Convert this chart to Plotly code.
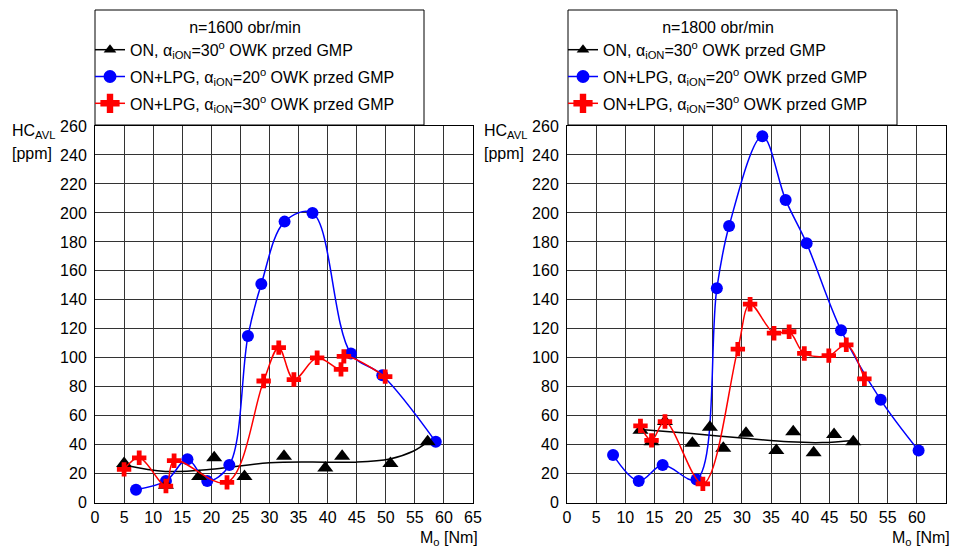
import plotly.graph_objects as go

# ---------- data: n = 1600 obr/min ----------
on1600_x = [5.0, 12.2, 17.9, 20.5, 25.7, 32.5, 39.6, 42.5, 50.8, 57.2]
on1600_y = [27, 12, 18, 31, 18, 32, 24, 32, 27, 42]
on1600_trend_x = [5.0, 12.1, 20.6, 30.0, 40.0, 45.0, 50.7, 54.7, 57.2]
on1600_trend_y = [26, 21.6, 23.3, 27.6, 28.0, 28.0, 30.2, 35.5, 42]

lpg20_1600_x = [7.05, 12.2, 15.9, 19.3, 23.1, 26.3, 28.6, 32.6, 37.4, 44.0, 49.4, 58.6]
lpg20_1600_y = [9, 15, 30, 15, 26, 115, 151, 194, 200, 103, 88, 42]

lpg30_1600_x = [5.0, 7.6, 12.2, 13.6, 22.7, 29.0, 31.6, 34.2, 38.2, 42.3, 42.8, 49.9]
lpg30_1600_y = [23, 31, 11.5, 29, 14, 84, 107, 85, 100, 92, 101, 87]

# ---------- data: n = 1800 obr/min ----------
on1800_x = [12.6, 14.5, 16.8, 21.5, 24.5, 26.8, 30.7, 35.9, 38.8, 42.3, 45.8, 49.1]
on1800_y = [50, 42, 56, 41, 52, 37.5, 48, 36, 49, 34.5, 47, 42]
on1800_trend_x = [12.6, 20.9, 29.5, 38.0, 43.8, 49.1]
on1800_trend_y = [50.6, 47.9, 44.8, 42.0, 41.5, 43.0]

lpg20_1800_x = [7.9, 12.3, 16.4, 22.2, 25.7, 27.8, 33.5, 37.5, 41.1, 47.0, 53.8, 60.3]
lpg20_1800_y = [33, 15, 26, 16, 148, 191, 253, 209, 179, 119, 71, 36]

lpg30_1800_x = [12.6, 14.5, 16.8, 23.3, 29.3, 31.4, 35.5, 38.1, 40.7, 44.9, 47.9, 51.0]
lpg30_1800_y = [53, 43, 56, 13, 106, 137, 117, 118, 103, 101.5, 109, 85.5]

titles = ["n=1600 obr/min", "n=1800 obr/min"]
names = ["ON, α<sub>iON</sub>=30<sup>o</sup> OWK przed GMP",
         "ON+LPG, α<sub>iON</sub>=20<sup>o</sup> OWK przed GMP",
         "ON+LPG, α<sub>iON</sub>=30<sup>o</sup> OWK przed GMP"]
x_ticks = list(range(0, 70, 5))
y_ticks = list(range(0, 280, 20))

FONT = "Liberation Sans, Arial, sans-serif"
BLACK, BLUE, RED = "#000000", "#0000ff", "#ff0000"

fig = go.Figure()

panels = [
    (on1600_x, on1600_y, on1600_trend_x, on1600_trend_y,
     lpg20_1600_x, lpg20_1600_y, lpg30_1600_x, lpg30_1600_y),
    (on1800_x, on1800_y, on1800_trend_x, on1800_trend_y,
     lpg20_1800_x, lpg20_1800_y, lpg30_1800_x, lpg30_1800_y),
]

for i, (ox, oy, tx, ty, bx, by, rx, ry) in enumerate(panels):
    xa = "x" if i == 0 else "x2"
    ya = "y" if i == 0 else "y2"
    lg = "legend" if i == 0 else "legend2"
    fig.add_trace(go.Scatter(x=tx, y=ty, mode="lines", line=dict(color=BLACK, width=1.5, shape="spline"),
                             xaxis=xa, yaxis=ya, showlegend=False, hoverinfo="skip"))
    fig.add_trace(go.Scatter(x=bx, y=by, mode="lines+markers",
                             line=dict(color=BLUE, width=1.5, shape="spline"),
                             marker=dict(symbol="circle", size=12, color=BLUE),
                             xaxis=xa, yaxis=ya, showlegend=False))
    fig.add_trace(go.Scatter(x=ox, y=oy, mode="markers",
                             marker=dict(symbol="triangle-up", size=14, color=BLACK),
                             xaxis=xa, yaxis=ya, showlegend=False))
    fig.add_trace(go.Scatter(x=rx, y=ry, mode="lines+markers",
                             line=dict(color=RED, width=1.5, shape="spline"),
                             marker=dict(symbol="cross", size=12, color=RED),
                             xaxis=xa, yaxis=ya, showlegend=False))
    for k, (name, col, sym, sz) in enumerate(zip(names, [BLACK, BLUE, RED],
                                                 ["triangle-up", "circle", "cross"], [11, 13, 21])):
        fig.add_trace(go.Scatter(x=[None], y=[None], mode="lines+markers", name=name,
                                 line=dict(color=col, width=1.5),
                                 marker=dict(symbol=sym, size=sz, color=col),
                                 legendgroup=f"g{i}{k}",
                                 xaxis=xa, yaxis=ya, legend=lg, showlegend=True))

W, H = 954, 547
y_dom = [(H - 502.7) / H, (H - 126) / H]
x_doms = [[95 / W, 473 / W], [567 / W, 946 / W]]

axis_common = dict(showgrid=True, gridcolor="#333333", gridwidth=1, zeroline=False,
                   showline=True, linecolor="#000000", linewidth=1, mirror=True,
                   ticks="", tickfont=dict(family=FONT, size=16, color="#000000"))

legend_common = dict(borderwidth=0, bgcolor="rgba(0,0,0,0)",
                     font=dict(family=FONT, size=16, color="#000000"),
                     xanchor="left", yanchor="top", itemsizing="trace",
                     tracegroupgap=3)

fig.update_layout(
    width=W, height=H, margin=dict(l=0, r=0, t=0, b=0, autoexpand=False),
    paper_bgcolor="#ffffff", plot_bgcolor="#ffffff",
    font=dict(family=FONT, size=16, color="#000000"),
    xaxis=dict(domain=x_doms[0], range=[0, 65], tickvals=x_ticks, anchor="y", **axis_common),
    yaxis=dict(domain=y_dom, range=[0, 260], tickvals=y_ticks, anchor="x", ticklabelstandoff=4, **axis_common),
    xaxis2=dict(domain=x_doms[1], range=[0, 65], tickvals=x_ticks, anchor="y2", **axis_common),
    yaxis2=dict(domain=y_dom, range=[0, 260], tickvals=y_ticks, anchor="x2", ticklabelstandoff=4, **axis_common),
    legend=dict(x=90 / W, y=1 - 12 / H,
                title=dict(text=titles[0], side="top center", font=dict(family=FONT, size=16)),
                **legend_common),
    legend2=dict(x=563 / W, y=1 - 12 / H,
                 title=dict(text=titles[1], side="top center", font=dict(family=FONT, size=16)),
                 **legend_common),
)

for x0, x1 in [(95, 424), (568, 897)]:
    fig.add_shape(type="rect", xref="paper", yref="paper",
                  x0=x0 / W, x1=x1 / W, y0=1 - 125 / H, y1=1 - 10 / H,
                  line=dict(color="#000000", width=1), fillcolor="#ffffff", layer="above")

for xl, xr in [(10, 480), (482, 952)]:
    fig.add_annotation(x=xl / W, y=1 - 131 / H, xref="paper", yref="paper", xanchor="left", yanchor="middle",
                       text="HC<sub>AVL</sub>", showarrow=False, font=dict(family=FONT, size=16))
    fig.add_annotation(x=xl / W, y=1 - 153 / H, xref="paper", yref="paper", xanchor="left", yanchor="middle",
                       text="[ppm]", showarrow=False, font=dict(family=FONT, size=16))
    fig.add_annotation(x=xr / W, y=1 - 538 / H, xref="paper", yref="paper", xanchor="right", yanchor="middle",
                       text="M<sub>o</sub> [Nm]", showarrow=False, font=dict(family=FONT, size=16))

fig.write_html("out.html", config={"displayModeBar": False},
               post_script="document.body.style.margin='0';")
